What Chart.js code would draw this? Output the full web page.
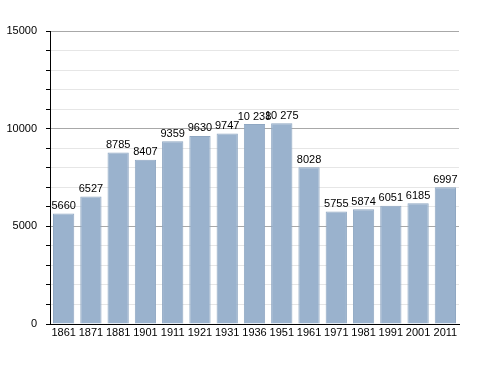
<!DOCTYPE html>
<html>
<head>
<meta charset="utf-8">
<script src="https://cdn.jsdelivr.net/npm/chart.js@4"></script>
<style>
  html, body { margin: 0; padding: 0; background: #fff; }
  #wrap { width: 488px; height: 373px; }
</style>
</head>
<body>
<div id="wrap"><canvas id="popChart" width="488" height="373"></canvas></div>
<script>
// Population by census year
const years = ['1861', '1871', '1881', '1901', '1911', '1921', '1931', '1936', '1951', '1961', '1971', '1981', '1991', '2001', '2011'];
const population = [5660, 6527, 8785, 8407, 9359, 9630, 9747, 10238, 10275, 8028, 5755, 5874, 6051, 6185, 6997];
const yMax = 15000;
const yStep = 1000;

const FONT = '"Liberation Sans", Arial, sans-serif';

function fmt(v) {
  // thousands separated by a space, only above 9999
  return v >= 10000 ? String(v).replace(/\B(?=(\d{3})+(?!\d))/g, ' ') : String(v);
}

// draws the value above each bar
const valueLabels = {
  id: 'valueLabels',
  afterDatasetsDraw(chart) {
    const ctx = chart.ctx;
    const meta = chart.getDatasetMeta(0);
    ctx.save();
    ctx.font = '11px ' + FONT;
    ctx.fillStyle = '#000';
    ctx.textAlign = 'center';
    ctx.textBaseline = 'bottom';
    meta.data.forEach((bar, i) => {
      ctx.fillText(fmt(population[i]), bar.x, bar.y - 2);
    });
    ctx.restore();
  }
};

const ctx = document.getElementById('popChart').getContext('2d');
new Chart(ctx, {
  type: 'bar',
  data: {
    labels: years,
    datasets: [{
      data: population,
      backgroundColor: '#9ab2cd',
      borderColor: '#8fa7c2',
      borderWidth: 1,
      barPercentage: 0.78,
      categoryPercentage: 1.0
    }]
  },
  options: {
    responsive: false,
    animation: false,
    layout: { padding: { top: 31, right: 29, bottom: 0, left: 0 } },
    plugins: {
      legend: { display: false },
      tooltip: { enabled: false }
    },
    scales: {
      x: {
        grid: { display: false, drawTicks: false },
        border: { display: true, color: '#000', width: 1 },
        ticks: {
          color: '#000',
          font: { family: FONT, size: 11 },
          padding: 2,
          maxRotation: 0,
          autoSkip: false
        },
        afterFit(scale) { scale.height = 49; }
      },
      y: {
        min: 0,
        max: yMax,
        border: { display: true, color: '#000', width: 1 },
        grid: {
          color: c => (c.tick && c.tick.value % 5000 === 0) ? '#a8a8a8' : '#e6e6e6',
          tickColor: '#000',
          tickLength: 4,
          drawTicks: true
        },
        ticks: {
          stepSize: yStep,
          color: '#000',
          font: { family: FONT, size: 11 },
          padding: 9,
          callback: v => (v % 5000 === 0 ? String(v) : '')
        },
        afterFit(scale) { scale.width = 50; }
      }
    }
  },
  plugins: [valueLabels]
});
</script>
</body>
</html>
